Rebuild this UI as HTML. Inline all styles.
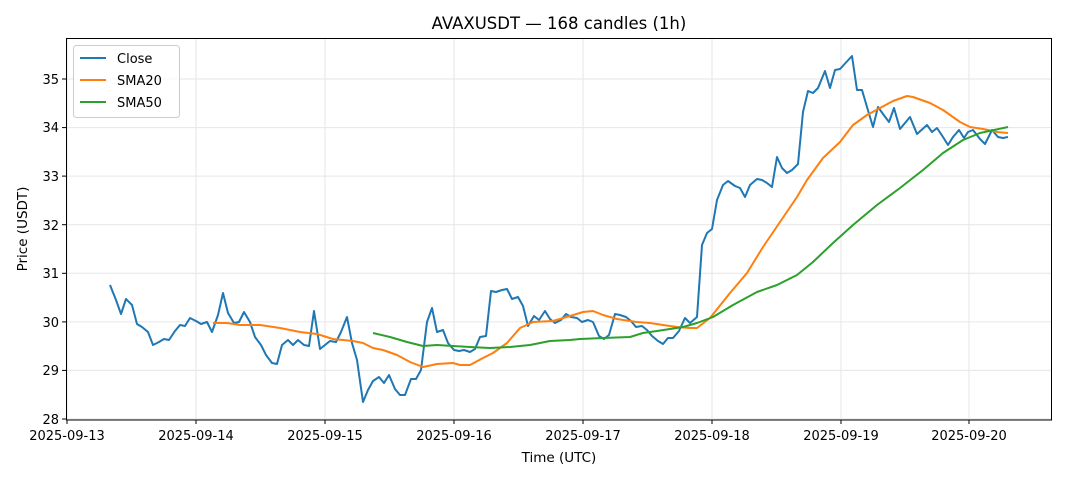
<!DOCTYPE html>
<html><head><meta charset="utf-8"><style>body{margin:0;background:#fff}svg{display:block;font-family:"DejaVu Sans","Liberation Sans",sans-serif}</style></head><body>
<svg width="1068" height="481" viewBox="0 0 1068 481">
<rect width="1068" height="481" fill="#fff"/>
<text x="559" y="29" text-anchor="middle" font-size="16.5">AVAXUSDT — 168 candles (1h)</text>
<g stroke="#e6e6e6" stroke-width="1">
<line x1="66" x2="1052" y1="419" y2="419"/><line x1="66" x2="1052" y1="370.4" y2="370.4"/><line x1="66" x2="1052" y1="321.9" y2="321.9"/><line x1="66" x2="1052" y1="273.3" y2="273.3"/><line x1="66" x2="1052" y1="224.7" y2="224.7"/><line x1="66" x2="1052" y1="176.1" y2="176.1"/><line x1="66" x2="1052" y1="127.6" y2="127.6"/><line x1="66" x2="1052" y1="79" y2="79"/>
<line y1="38" y2="420" x1="67" x2="67"/><line y1="38" y2="420" x1="196" x2="196"/><line y1="38" y2="420" x1="325" x2="325"/><line y1="38" y2="420" x1="454" x2="454"/><line y1="38" y2="420" x1="583" x2="583"/><line y1="38" y2="420" x1="712" x2="712"/><line y1="38" y2="420" x1="841" x2="841"/><line y1="38" y2="420" x1="969" x2="969"/>
</g>
<g fill="none" stroke-width="2" stroke-linejoin="round">
<polyline stroke="#1f77b4" points="110,285 116,300 121,314 126,299 132,305 137,324 142,327 148,332 153,345 159,342 164,339 169,340 175,331 180,325 185,326 190,318 196,321 201,324 207,322 212,332 218,315 223,293 228,313 234,323 239,322 244,312 250,322 255,337 261,345 266,355 272,363 277,364 282,345 288,340 293,345 298,340 304,345 309,346 314,311 320,349 325,345 330,341 336,342 341,332 347,317 352,343 357,360 363,402 368,390 373,381 379,377 384,383 389,375 395,389 400,395 405,395 411,379 416,379 421,370 427,322 432,308 437,332 443,330 448,343 454,350 459,351 464,350 470,352 475,349 480,337 486,336 491,291 496,292 502,290 507,289 512,299 518,297 523,306 528,326 534,316 539,320 545,311 550,319 555,323 561,320 566,314 571,317 577,318 582,322 588,320 593,322 599,336 604,339 609,335 615,314 620,315 626,317 631,321 636,327 642,326 647,330 652,336 658,341 663,344 668,338 673,338 679,331 685,318 690,323 697,317 702,245 707,233 712,229 717,200 723,185 728,181 735,186 740,188 745,197 750,185 757,179 762,180 767,183 772,187 777,157 782,168 787,173 792,170 798,164 803,112 808,91 813,93 818,88 825,71 830,88 835,70 840,69 852,56 857,90 862,90 867,107 873,127 878,107 883,114 889,122 894,108 900,129 905,123 910,117 917,134 927,125 932,132 937,128 943,137 948,145 953,137 959,130 964,138 968,132 973,130 980,139 985,144 992,130 998,137 1003,138 1008,137"/>
<polyline stroke="#ff7f0e" points="213,323 227,323 240,325 260,325 280,328 300,332 317,334 333,339 353,341 363,343 373,348 383,350 397,355 410,362 423,367 437,364 453,363 460,365 470,365 483,358 493,353 507,343 520,328 533,322 553,321 570,316 583,312 593,311 603,315 617,319 637,322 650,323 663,325 677,327 690,328 697,328 710,318 730,293 747,273 763,247 780,222 797,197 807,180 823,158 840,142 853,125 867,115 880,108 893,101 907,96 913,97 930,103 943,110 960,122 970,127 983,129 997,132 1008,133"/>
<polyline stroke="#2ca02c" points="373,333 390,337 407,342 423,346 437,345 453,346 470,347 490,348 510,347 530,345 550,341 570,340 580,339 603,338 630,337 643,333 657,331 670,329 683,327 697,323 713,317 733,305 757,292 777,285 797,275 813,262 833,243 853,225 877,205 900,188 923,170 943,153 963,140 980,133 1008,127"/>
</g>
<rect x="66.5" y="38.5" width="985" height="381.5" fill="none" stroke="#000" stroke-width="1"/>
<g stroke="#000"><line x1="62" x2="66" y1="419" y2="419"/><line x1="62" x2="66" y1="370.4" y2="370.4"/><line x1="62" x2="66" y1="321.9" y2="321.9"/><line x1="62" x2="66" y1="273.3" y2="273.3"/><line x1="62" x2="66" y1="224.7" y2="224.7"/><line x1="62" x2="66" y1="176.1" y2="176.1"/><line x1="62" x2="66" y1="127.6" y2="127.6"/><line x1="62" x2="66" y1="79" y2="79"/>
<line y1="420" y2="424" x1="67" x2="67"/><line y1="420" y2="424" x1="196" x2="196"/><line y1="420" y2="424" x1="325" x2="325"/><line y1="420" y2="424" x1="454" x2="454"/><line y1="420" y2="424" x1="583" x2="583"/><line y1="420" y2="424" x1="712" x2="712"/><line y1="420" y2="424" x1="841" x2="841"/><line y1="420" y2="424" x1="969" x2="969"/></g>
<g font-size="13" text-anchor="end"><text x="59" y="424">28</text><text x="59" y="375">29</text><text x="59" y="327">30</text><text x="59" y="278">31</text><text x="59" y="230">32</text><text x="59" y="181">33</text><text x="59" y="132">34</text><text x="59" y="84">35</text></g>
<g font-size="13" text-anchor="middle"><text x="67" y="440">2025-09-13</text><text x="196" y="440">2025-09-14</text><text x="325" y="440">2025-09-15</text><text x="454" y="440">2025-09-16</text><text x="583" y="440">2025-09-17</text><text x="712" y="440">2025-09-18</text><text x="841" y="440">2025-09-19</text><text x="969" y="440">2025-09-20</text></g>
<text x="559" y="462" text-anchor="middle" font-size="13.5">Time (UTC)</text>
<text transform="translate(27,229) rotate(-90)" text-anchor="middle" font-size="13.5">Price (USDT)</text>
<rect x="73.5" y="45.5" width="106" height="72" rx="3" fill="#fff" fill-opacity="0.8" stroke="#ccc"/>
<line x1="80" x2="106" y1="58" y2="58" stroke="#1f77b4" stroke-width="2"/><text x="117" y="63" font-size="13">Close</text>
<line x1="80" x2="106" y1="80" y2="80" stroke="#ff7f0e" stroke-width="2"/><text x="117" y="85" font-size="13">SMA20</text>
<line x1="80" x2="106" y1="102" y2="102" stroke="#2ca02c" stroke-width="2"/><text x="117" y="107" font-size="13">SMA50</text>
</svg></body></html>
